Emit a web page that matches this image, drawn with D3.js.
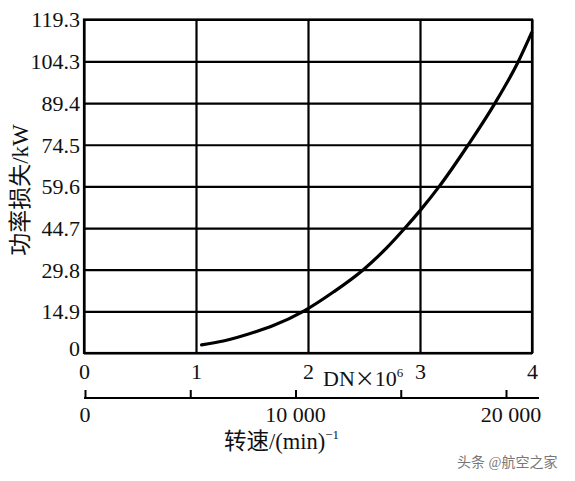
<!DOCTYPE html>
<html>
<head>
<meta charset="utf-8">
<script src="https://cdn.jsdelivr.net/npm/d3@7"></script>
<style>
  html, body { margin: 0; padding: 0; background: #fff; }
  svg { display: block; }
  text { font-family: "Liberation Serif", "Noto Sans CJK SC", serif; fill: #111; }
</style>
</head>
<body>
<svg id="chart" width="575" height="481"></svg>
<script>
// ---- data ----
const dnTicks = [0, 1, 2, 3, 4];
const yTickValues = [0, 14.9, 29.8, 44.7, 59.6, 74.5, 89.4, 104.3, 119.3];
const yTickLabels = ["0", "14.9", "29.8", "44.7", "59.6", "74.5", "89.4", "104.3", "119.3"];
const rpmTicks = [0, 5000, 10000, 15000, 20000];
const rpmTickLabels = ["0", "", "10 000", "", "20 000"];
const curveDN = [1.05, 1.244, 1.54, 1.69, 1.958, 2.23, 2.494, 2.70, 2.866, 3.006, 3.172, 3.431, 3.67, 3.878, 3.997];
const curveKW = [2.9, 4.3, 7.7, 9.8, 14.9, 21.9, 29.8, 37.5, 44.7, 51.2, 59.6, 74.5, 89.4, 104.3, 114.6];
const yTitle = "功率损失/kW";
const xTitle = "转速/(min)";
const watermark = "头条 @航空之家";

// ---- layout ----
const svg = d3.select("#chart");
const L = 84, R = 532, T = 19.5, B = 353;
const x = d3.scaleLinear().domain([0, 4]).range([L, R]);
const y = d3.scaleLinear().domain([0, 119.3]).range([B, T]);
const rpm = d3.scaleLinear().domain([0, 20000]).range([85, 506]);

svg.append("rect").attr("width", 575).attr("height", 481).attr("fill", "#fff");

// horizontal grid
const gy = svg.append("g").attr("transform", `translate(${L},0)`)
  .call(d3.axisLeft(y).tickValues(yTickValues).tickSize(-(R - L))
    .tickFormat((d, i) => yTickLabels[i]).tickPadding(4));
gy.select(".domain").remove();
gy.selectAll(".tick line").attr("stroke", "#000").attr("stroke-width", 2.2);
gy.selectAll(".tick text").attr("font-size", 22).attr("font-family", "Liberation Serif")
  .attr("fill", "#111").attr("dy", (d) => d === 0 ? "0.12em" : "0.34em");

// vertical grid + DN labels
const gx = svg.append("g").attr("transform", `translate(0,${B})`)
  .call(d3.axisBottom(x).tickValues(dnTicks).tickSize(-(B - T)).tickFormat(d3.format("d")).tickPadding(10));
gx.select(".domain").remove();
gx.selectAll(".tick line").attr("stroke", "#000").attr("stroke-width", 2.2);
gx.selectAll(".tick text").attr("font-size", 22).attr("font-family", "Liberation Serif").attr("fill", "#111");

// frame
svg.append("rect").attr("x", L).attr("y", T).attr("width", R - L).attr("height", B - T)
  .attr("fill", "none").attr("stroke", "#000").attr("stroke-width", 2.2);

// DN label
const dnT = svg.append("text").attr("x", 323).attr("y", 386).attr("font-size", 22);
dnT.append("tspan").text("DN");
dnT.append("tspan").attr("font-family", "Noto Sans CJK SC").attr("font-size", 20).text("×");
dnT.append("tspan").text("10");
dnT.append("tspan").attr("font-size", 13).attr("dy", -9).text("6");

// rpm axis
const gr = svg.append("g").attr("transform", "translate(0,398)")
  .call(d3.axisTop(rpm).tickValues(rpmTicks).tickSize(8).tickFormat(() => ""));
gr.select(".domain").remove();
gr.selectAll(".tick line").attr("stroke", "#000").attr("stroke-width", 2);
svg.append("line").attr("x1", rpm(0) - 1).attr("x2", 539).attr("y1", 398).attr("y2", 398)
  .attr("stroke", "#000").attr("stroke-width", 2.2);
svg.append("g").selectAll("text").data(rpmTicks).join("text")
  .attr("x", (d) => rpm(d) + (d === 20000 ? 5 : 0)).attr("y", 422).attr("text-anchor", "middle")
  .attr("font-size", 22).text((d, i) => rpmTickLabels[i]);

// x title
const xt = svg.append("text").attr("x", 224).attr("y", 449).attr("font-size", 22.5);
xt.append("tspan").text(xTitle);
xt.append("tspan").attr("font-size", 13).attr("dy", -10).text("−1");

// y title
svg.append("text").attr("transform", "translate(28,190) rotate(-90)")
  .attr("text-anchor", "middle").attr("font-size", 23).text(yTitle);

// curve
const line = d3.line().x((d, i) => x(curveDN[i])).y((d) => y(d)).curve(d3.curveMonotoneX);
svg.append("path").attr("d", line(curveKW)).attr("fill", "none")
  .attr("stroke", "#000").attr("stroke-width", 3.2).attr("stroke-linecap", "round");

// watermark
svg.append("text").attr("x", 457).attr("y", 467).attr("font-size", 14)
  .attr("font-family", "Noto Sans CJK SC").style("fill", "#777").text(watermark);
</script>
</body>
</html>
